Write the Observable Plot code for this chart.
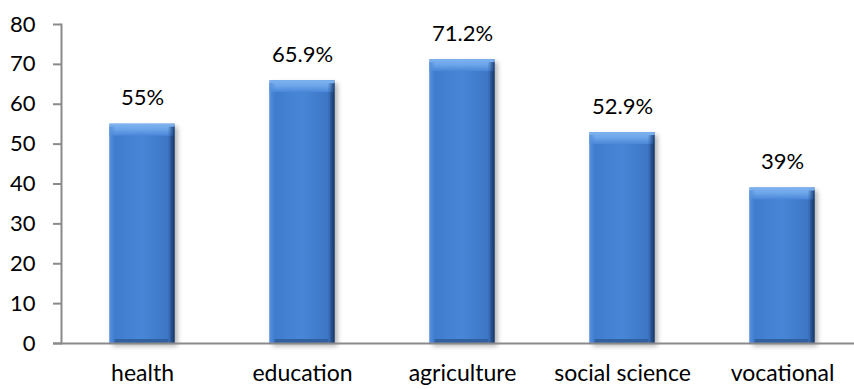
<!DOCTYPE html>
<html>
<head>
<meta charset="utf-8">
<script src="https://cdn.jsdelivr.net/npm/d3@7"></script>
<script src="https://cdn.jsdelivr.net/npm/@observablehq/plot@0.6"></script>
<style>
  html, body { margin: 0; padding: 0; background: #fff; }
  #chart svg { display: block; }
</style>
</head>
<body>
<div id="chart"></div>
<script>
// Share of respondents by field
const fields = ["health", "education", "agriculture", "social science", "vocational"];
const shares = [55, 65.9, 71.2, 52.9, 39];
const shareLabels = ["55%", "65.9%", "71.2%", "52.9%", "39%"];
const yTicks = [0, 10, 20, 30, 40, 50, 60, 70, 80];

const rows = fields.map((f, i) => ({field: f, value: shares[i], label: shareLabels[i]}));

const font = "Lato, 'Open Sans', sans-serif";
const inset = 47.5;
const axisGray = "#8a8a8a";

const chart = Plot.plot({
  width: 854,
  height: 389,
  marginTop: 24,
  marginBottom: 46,
  marginLeft: 61,
  marginRight: 0,
  style: {fontFamily: font, fontSize: "22px", color: "#000", background: "#fff"},
  x: {domain: fields, range: [61, 862], padding: 0, label: null},
  y: {domain: [0, 80], label: null},
  marks: [
    // bar bodies with drop shadow
    Plot.barY(rows, {x: "field", y: "value", insetLeft: inset, insetRight: inset, fill: "url(#barBody)", className: "bar-body"}),
    // bevels: top, left, right, bottom
    Plot.rect(rows, {x: "field", y1: "value", y2: "value", insetLeft: inset, insetRight: inset, insetTop: 0, insetBottom: -12, fill: "url(#bevelTop)"}),
    Plot.rect(rows, {x: "field", y1: 0, y2: "value", insetLeft: inset, insetRight: inset + 59, insetTop: 3, fill: "url(#bevelLeft)"}),
    Plot.rect(rows, {x: "field", y1: 0, y2: "value", insetLeft: inset + 58, insetRight: inset, insetTop: 3, fill: "url(#bevelRight)"}),
    Plot.rect(rows, {x: "field", y1: 0, y2: 0, insetLeft: inset + 5, insetRight: inset + 6, insetTop: -4, insetBottom: 0, fill: "#30609f"}),
    // axes
    Plot.frame({anchor: "left", stroke: axisGray, strokeWidth: 2}),
    Plot.ruleY([0], {stroke: axisGray, strokeWidth: 2, insetLeft: -8}),
    Plot.axisY(yTicks, {tickSize: 8, tickPadding: 18, stroke: axisGray, strokeWidth: 2, fontSize: 22, fill: "#000"}),
    Plot.axisX({tickSize: 0, tickPadding: 21, fontSize: 23, fill: "#000"}),
    // value labels
    Plot.text(rows, {x: "field", y: "value", text: "label", dy: -26, fontSize: 22, fill: "#000"})
  ]
});

// gradient and shadow definitions for the bars
const svg = d3.select(chart);
const defs = svg.insert("defs", ":first-child");
const lin = (id, x2, y2, stops) => {
  const g = defs.append("linearGradient").attr("id", id).attr("x1", 0).attr("y1", 0).attr("x2", x2).attr("y2", y2);
  stops.forEach(([o, c, a]) => g.append("stop").attr("offset", o).attr("stop-color", c).attr("stop-opacity", a ?? 1));
};
lin("barBody", 1, 0, [[0, "#3f7acb"], [0.5, "#4886d7"], [0.92, "#3c75c4"], [1, "#1d3e6e"]]);
lin("bevelLeft", 1, 0, [[0, "#5a93df"], [1, "#4886d7", 0]]);
lin("bevelRight", 1, 0, [[0, "#2b5a9c", 0], [1, "#1a3a68"]]);
lin("bevelTop", 0, 1, [[0, "#7fb3f0"], [0.45, "#6ea6ea"], [1, "#4886d7"]]);
const f = defs.append("filter").attr("id", "barShadow").attr("x", "-20%").attr("y", "-10%").attr("width", "150%").attr("height", "130%");
f.append("feDropShadow").attr("dx", 3).attr("dy", 3).attr("stdDeviation", 2.5).attr("flood-color", "#000").attr("flood-opacity", 0.3);
svg.selectAll(".bar-body").attr("filter", "url(#barShadow)");

document.getElementById("chart").appendChild(chart);
</script>
</body>
</html>
